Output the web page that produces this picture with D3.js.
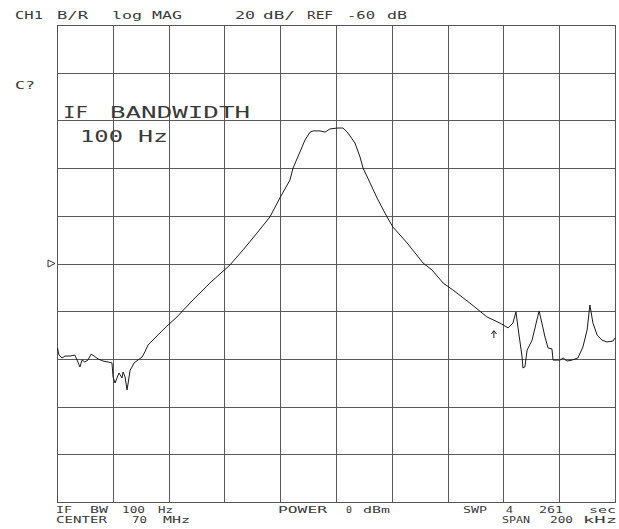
<!DOCTYPE html>
<html>
<head>
<meta charset="utf-8">
<script src="https://cdn.jsdelivr.net/npm/d3@7"></script>
<style>
  html, body { margin: 0; padding: 0; background: #fff; }
  svg { display: block; }
  text { font-family: "DejaVu Sans Mono", "Liberation Mono", monospace; fill: #3a3a3a; }
</style>
</head>
<body>
<svg id="chart" width="619" height="529"></svg>
<script>
// ---- data: frequency offset from 70 MHz centre (kHz) and B/R log magnitude (dB)
const freqKHz = [-99.8,-99.3,-98.2,-97.1,-95.3,-93.6,-92.5,-91.8,-91.0,-90.0,-88.9,-87.8,-86.7,-85.3,-83.5,-81.7,-80.3,-79.9,-79.2,-78.5,-77.8,-76.7,-76.3,-75.6,-74.9,-74.6,-73.8,-73.1,-72.4,-71.0,-69.5,-68.5,-67.4,-65.6,-63.1,-60.2,-57.0,-51.3,-45.2,-38.0,-33.3,-28.3,-23.7,-20.1,-16.5,-15.4,-12.9,-11.1,-9.3,-8.2,-5.7,-3.9,-2.2,0.4,2.5,4.3,6.8,8.6,9.7,12.2,14.7,18.3,20.4,25.5,31.2,34.4,38.4,41.9,48.0,54.1,58.8,61.7,63.4,64.5,65.2,66.7,67.0,67.7,68.5,70.3,72.0,72.8,73.8,74.9,76.0,77.4,77.8,80.3,81.4,82.8,84.6,86.7,88.5,90.0,91.0,92.1,93.6,95.3,97.1,99.3,100.0];
const magDB = [-95.4,-98.4,-99.6,-98.8,-98.8,-98.4,-101.3,-103.4,-100.5,-101.3,-100.5,-98.0,-98.8,-100.0,-100.9,-101.3,-101.7,-107.6,-110.1,-108.0,-105.9,-108.0,-105.5,-107.6,-113.0,-110.9,-104.7,-103.4,-101.7,-100.5,-99.2,-97.1,-94.2,-92.1,-89.1,-85.8,-82.4,-75.3,-68.2,-60.6,-54.3,-47.2,-40.5,-32.5,-25.0,-20.0,-13.2,-8.2,-4.9,-4.4,-4.4,-4.9,-3.6,-3.2,-3.2,-5.3,-9.5,-15.3,-20.0,-26.2,-32.5,-40.5,-44.7,-51.4,-59.8,-62.7,-68.2,-71.1,-76.6,-82.4,-85.0,-87.0,-85.0,-80.3,-86.6,-99.2,-103.8,-103.4,-96.3,-92.1,-83.7,-79.9,-85.0,-90.8,-95.4,-95.8,-100.5,-100.5,-99.6,-100.9,-100.5,-99.6,-95.0,-87.9,-77.4,-85.0,-90.0,-92.1,-92.9,-92.5,-91.2];

// axis settings: 20 dB/div, REF -60 dB at centre line, span 200 kHz
const xGrid = [-100,-80,-60,-40,-20,0,20,40,60,80,100];
const yGrid = [40,20,0,-20,-40,-60,-80,-100,-120,-140,-160];
const refLevel = -60;
const markerFreq = 56.6;

// annotation texts
const headerTexts = ["CH1","B/R","log","MAG","20","dB/","REF","-60","dB"];
const footerTexts1 = ["IF","BW","100","Hz","POWER","0","dBm","SWP","4","261","sec"];
const footerTexts2 = ["CENTER","70","MHz","SPAN","200","kHz"];
const bigTexts = ["IF","BANDWIDTH","100","Hz"];
const chanText = "C?";

// ---- layout
const L = 57, R = 615, T = 25, B = 502;
const svg = d3.select("#chart");
const x = d3.scaleLinear().domain([-100, 100]).range([L, R]);
const y = d3.scaleLinear().domain([-160, 40]).range([B, T]);

// grid via axes
const gx = svg.append("g").attr("transform", `translate(0,${B})`)
  .call(d3.axisBottom(x).tickValues(xGrid).tickSize(-(B - T)).tickFormat(""));
const gy = svg.append("g").attr("transform", `translate(${L},0)`)
  .call(d3.axisLeft(y).tickValues(yGrid).tickSize(-(R - L)).tickFormat(""));
[gx, gy].forEach(g => {
  g.select(".domain").remove();
  g.selectAll(".tick line").attr("stroke", "#5a5a5a").attr("stroke-width", 1)
    .attr("shape-rendering", "crispEdges");
});
svg.append("rect").attr("x", L).attr("y", T).attr("width", R - L).attr("height", B - T)
  .attr("fill", "none").attr("stroke", "#555").attr("stroke-width", 1)
  .attr("shape-rendering", "crispEdges");

// trace
const pts = freqKHz.map((f, i) => [f, magDB[i]]);
svg.append("path").datum(pts)
  .attr("fill", "none").attr("stroke", "#1a1a1a").attr("stroke-width", 1)
  .attr("stroke-linejoin", "round")
  .attr("d", d3.line().x(d => x(d[0])).y(d => y(d[1])));

// reference-position triangle
const ry = y(refLevel);
svg.append("path")
  .attr("d", `M${L - 9},${ry - 3.5} L${L - 2},${ry} L${L - 9},${ry + 3.5} Z`)
  .attr("fill", "none").attr("stroke", "#333").attr("stroke-width", 1);

// marker arrow
const mx = x(markerFreq);
svg.append("path")
  .attr("d", `M${mx},${331} L${mx},${338} M${mx - 2.5},${334} L${mx},${330.5} L${mx + 2.5},${334}`)
  .attr("fill", "none").attr("stroke", "#222").attr("stroke-width", 1);

// text helper
function txt(s, x0, x1, base, size) {
  svg.append("text").attr("x", x0).attr("y", base)
    .attr("font-size", size)
    .attr("textLength", x1 - x0).attr("lengthAdjust", "spacingAndGlyphs")
    .text(s);
}
const headerPos = [[15,43],[57,88],[112,142],[152,182],[235,255],[263,295],[307,333],[347,375],[387,407]];
headerTexts.forEach((s, i) => txt(s, headerPos[i][0], headerPos[i][1], 19, 10));
txt(chanText, 15, 35, 89, 10);

const bigPos = [[63,88,118],[110,250,118],[80,123,142],[138,168,142]];
bigTexts.forEach((s, i) => txt(s, bigPos[i][0], bigPos[i][1], bigPos[i][2], 16));

const f1Pos = [[56,72],[90,108],[122,145],[158,173],[278,327],[346,352],[363,390],[463,487],[506,513],[539,563],[589,616]];
footerTexts1.forEach((s, i) => txt(s, f1Pos[i][0], f1Pos[i][1], 513, 8.5));
const f2Pos = [[56,107],[132,147],[163,190],[502,530],[550,573],[583,617]];
footerTexts2.forEach((s, i) => txt(s, f2Pos[i][0], f2Pos[i][1], 523, 8.5));
</script>
</body>
</html>
